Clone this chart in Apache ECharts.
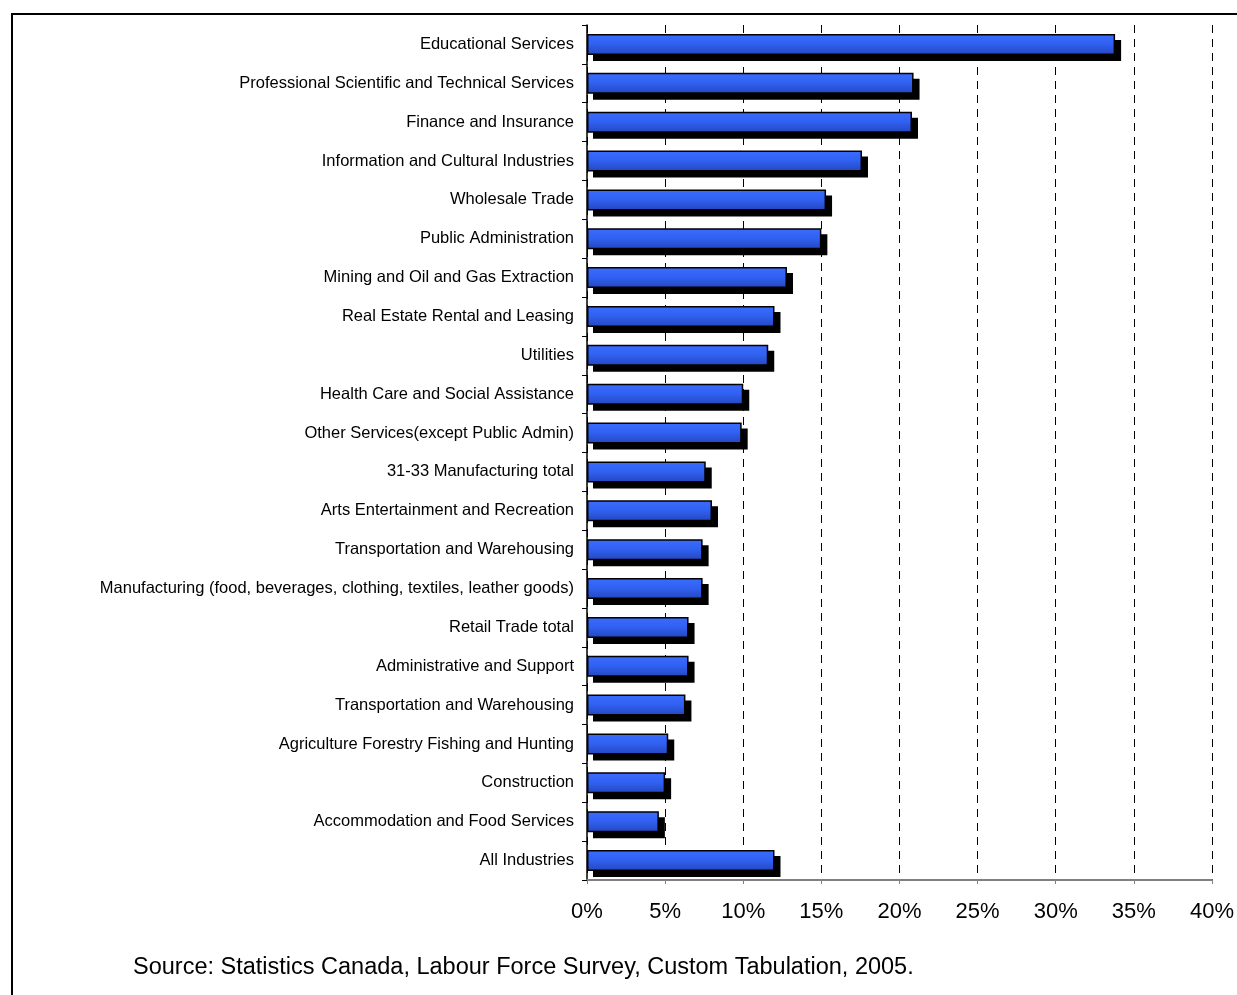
<!DOCTYPE html>
<html>
<head>
<meta charset="utf-8">
<script src="https://cdn.jsdelivr.net/npm/echarts@6/dist/echarts.min.js"></script>
<style>
  html, body { margin: 0; padding: 0; background: #fff; }
  #chart { width: 1237px; height: 995px; }
</style>
</head>
<body>
<div id="chart"></div>
<script>
// Industries, top to bottom
const industries = [
  'Educational Services',
  'Professional Scientific and Technical Services',
  'Finance and Insurance',
  'Information and Cultural Industries',
  'Wholesale Trade',
  'Public Administration',
  'Mining and Oil and Gas Extraction',
  'Real Estate Rental and Leasing',
  'Utilities',
  'Health Care and Social Assistance',
  'Other Services(except Public Admin)',
  '31-33 Manufacturing total',
  'Arts Entertainment and Recreation',
  'Transportation and Warehousing',
  'Manufacturing (food, beverages, clothing, textiles, leather goods)',
  'Retail Trade total',
  'Administrative and Support',
  'Transportation and Warehousing',
  'Agriculture Forestry Fishing and Hunting',
  'Construction',
  'Accommodation and Food Services',
  'All Industries'
];

// Share of workers, percent
const shares = [33.8, 20.9, 20.8, 17.6, 15.3, 15.0, 12.8, 12.0, 11.6, 10.0, 9.9,
                7.6, 8.0, 7.4, 7.4, 6.5, 6.5, 6.3, 5.2, 5.0, 4.6, 12.0];

const axisMin = 0;
const axisMax = 40;
const axisStep = 5;

const sourceNote = 'Source: Statistics Canada, Labour Force Survey, Custom Tabulation, 2005.';

const BAR_H = 21;
const SHADOW_OFFSET = 6;
const FONT = '"Liberation Sans", Arial, sans-serif';

const chart = echarts.init(document.getElementById('chart'), null, { renderer: 'canvas' });

chart.setOption({
  backgroundColor: '#ffffff',
  animation: false,
  textStyle: { fontFamily: FONT },
  grid: { left: 587, right: 24, top: 25, bottom: 115, containLabel: false },
  xAxis: {
    type: 'value',
    min: axisMin,
    max: axisMax,
    interval: axisStep,
    axisLine: { show: true, lineStyle: { color: '#808080', width: 2 } },
    axisTick: { show: true, length: 4, lineStyle: { color: '#808080', width: 1 } },
    axisLabel: {
      formatter: v => v + '%',
      color: '#000',
      fontSize: 22,
      margin: 21,
      fontFamily: FONT
    },
    splitLine: {
      show: true,
      lineStyle: { color: '#000', width: 1, type: [8, 6] }
    }
  },
  yAxis: {
    type: 'category',
    data: industries,
    inverse: true,
    axisLine: { show: true, lineStyle: { color: '#000', width: 1.5 } },
    axisTick: { show: true, length: 5, alignWithLabel: false, lineStyle: { color: '#000' } },
    axisLabel: {
      color: '#000',
      fontSize: 16.5,
      margin: 13,
      fontFamily: FONT
    },
    splitLine: { show: false }
  },
  series: [
    {
      // drop shadow behind each bar
      type: 'custom',
      z: 1,
      silent: true,
      encode: { x: 0, y: 1 },
      data: shares.map((v, i) => [v, i]),
      renderItem: function (params, api) {
        const idx = api.value(1);
        const start = api.coord([0, idx]);
        const end = api.coord([api.value(0), idx]);
        return {
          type: 'rect',
          shape: {
            x: start[0] + SHADOW_OFFSET,
            y: start[1] - BAR_H / 2 + SHADOW_OFFSET,
            width: end[0] - start[0],
            height: BAR_H
          },
          style: { fill: '#000' }
        };
      }
    },
    {
      type: 'bar',
      z: 2,
      data: shares,
      barWidth: BAR_H,
      itemStyle: {
        color: new echarts.graphic.LinearGradient(0, 0, 0, 1, [
          { offset: 0, color: '#3a6cff' },
          { offset: 0.5, color: '#3060f0' },
          { offset: 1, color: '#2446bd' }
        ]),
        borderColor: '#000',
        borderWidth: 1.5
      }
    }
  ],
  graphic: [
    {
      type: 'rect',
      shape: { x: 12, y: 14, width: 1400, height: 1200 },
      style: { fill: 'none', stroke: '#000', lineWidth: 2 },
      silent: true
    },
    {
      type: 'text',
      left: 133,
      top: 956,
      style: {
        text: sourceNote,
        fill: '#000',
        font: '23.5px "Liberation Sans", Arial, sans-serif'
      }
    }
  ]
});
</script>
</body>
</html>
